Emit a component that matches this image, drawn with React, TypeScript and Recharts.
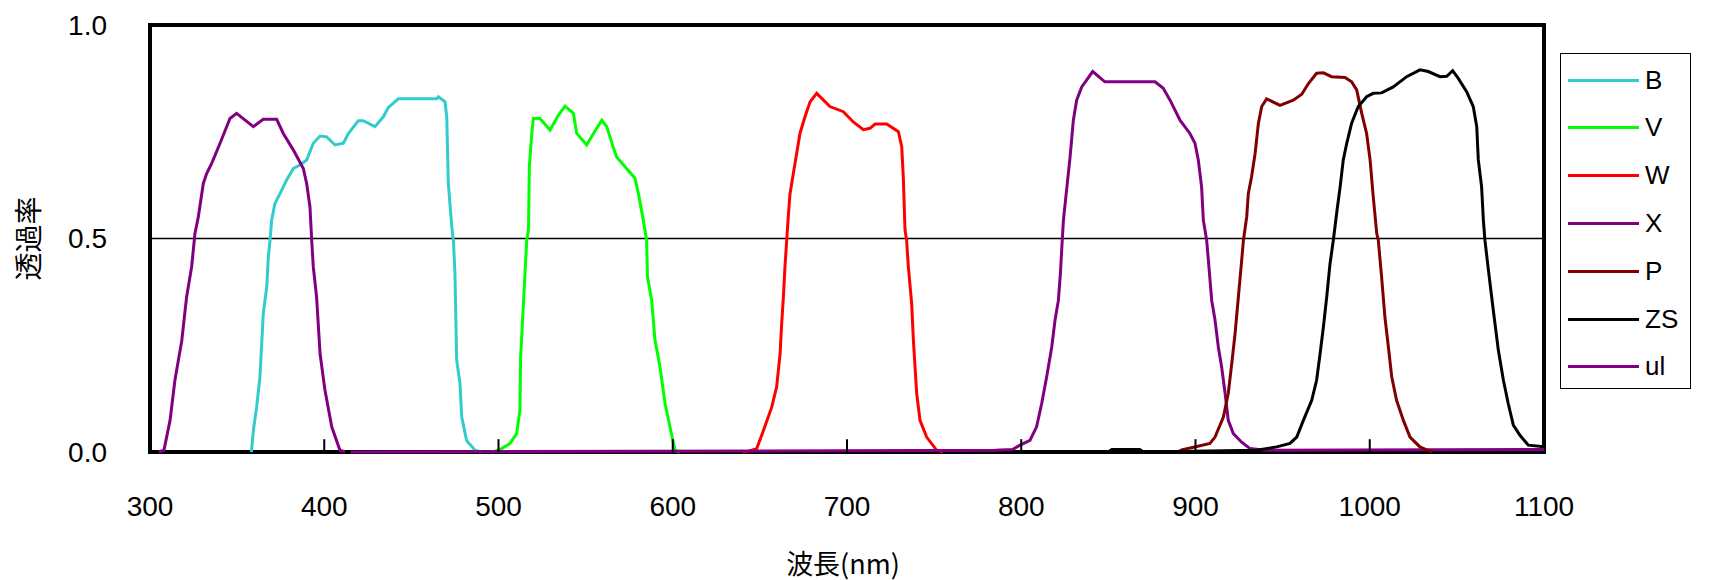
import { LineChart, Line, XAxis, YAxis, ReferenceLine, ReferenceArea, Label } from "recharts"

type Pt = [number, number]

const wavelengthTicks = [300, 400, 500, 600, 700, 800, 900, 1000, 1100]
const transmissionTicks = [0, 0.5, 1]

const bPoints: Pt[] = [
  [358, 0], [358.3, 0.004], [359.3, 0.05], [361.2, 0.105], [363.1, 0.176], [365, 0.324], [367, 0.387],
  [367.9, 0.457], [368.9, 0.496], [369.8, 0.543], [371.7, 0.582], [374.6, 0.605], [378.4, 0.637],
  [382.3, 0.664], [386, 0.672], [389.9, 0.684], [393.7, 0.723], [397.6, 0.74], [401.4, 0.738],
  [406.2, 0.719], [411, 0.723], [413.8, 0.746], [419.6, 0.776], [422.4, 0.776], [429.1, 0.762],
  [433.9, 0.785], [436.8, 0.807], [442.5, 0.827], [464.5, 0.827], [465.5, 0.832], [469.3, 0.82],
  [470.3, 0.785], [471.2, 0.629], [473.2, 0.527], [474.1, 0.496], [475, 0.418], [476, 0.215],
  [477.9, 0.16], [478.9, 0.082], [481.7, 0.027], [486.5, 0.004], [490, 0],
]

const vPoints: Pt[] = [
  [496, 0], [498, 0.002], [501.8, 0.008], [506.6, 0.02], [510.4, 0.043], [512.3, 0.098], [512.7, 0.223],
  [513.9, 0.316], [515.2, 0.418], [516.2, 0.496], [517.2, 0.52], [517.7, 0.668], [519.1, 0.746],
  [520, 0.781], [523.8, 0.781], [529.6, 0.754], [534.4, 0.789], [538.2, 0.81], [543, 0.793],
  [544.9, 0.746], [550.6, 0.719], [554.5, 0.746], [559.3, 0.777], [562.1, 0.762], [565.9, 0.713],
  [567.8, 0.691], [572.6, 0.668], [578.3, 0.641], [580.3, 0.605], [583.1, 0.543], [585, 0.496],
  [585.5, 0.41], [587.9, 0.355], [589.8, 0.262], [592.7, 0.199], [595.6, 0.113], [598.4, 0.059],
  [601.3, 0.004], [604, 0],
]

const wPoints: Pt[] = [
  [640, 0], [643.4, 0.002], [648.2, 0.008], [652, 0.05], [656.8, 0.105], [659.6, 0.152], [661.6, 0.23],
  [662.5, 0.3], [663.5, 0.363], [664.4, 0.434], [665.4, 0.496], [666.3, 0.551], [667.3, 0.605],
  [669.2, 0.652], [671.1, 0.699], [673, 0.746], [675.9, 0.785], [678.8, 0.82], [682.6, 0.84],
  [690.2, 0.809], [697.9, 0.797], [703.6, 0.773], [709.4, 0.755], [713.2, 0.758], [716.1, 0.768],
  [722.8, 0.768], [729.5, 0.75], [731.4, 0.715], [732.3, 0.645], [733.3, 0.52], [734.2, 0.496],
  [735.2, 0.434], [737.1, 0.348], [738.1, 0.262], [740, 0.137], [741.9, 0.074], [745.7, 0.035],
  [751.5, 0.004], [755, 0],
]

const xPoints: Pt[] = [
  [415, 0], [785, 0.004], [795, 0.006], [799.3, 0.016], [805, 0.027], [808.8, 0.059], [811.7, 0.113],
  [814.6, 0.176], [817.5, 0.246], [819.4, 0.309], [821.3, 0.355], [822.5, 0.42], [823.3, 0.48],
  [824.2, 0.543], [826.1, 0.617], [828, 0.69], [829.9, 0.777], [831.8, 0.824], [834.7, 0.855],
  [837.5, 0.871], [841, 0.891], [848, 0.867], [876.8, 0.867], [881.5, 0.852], [885.4, 0.824],
  [891.1, 0.777], [896.8, 0.746], [899.7, 0.723], [901.6, 0.684], [903.5, 0.621], [904.5, 0.543],
  [906.4, 0.496], [907.4, 0.449], [909.3, 0.355], [911.2, 0.309], [913.1, 0.246], [915, 0.199],
  [917, 0.137], [918.8, 0.074], [921.7, 0.043], [926.5, 0.023], [931.3, 0.008], [940, 0.004],
  [1100, 0.006],
]

const pPoints: Pt[] = [
  [890, 0], [892.1, 0.005], [900.7, 0.013], [908.3, 0.02], [911.2, 0.035], [916, 0.082], [918.8, 0.137],
  [920.8, 0.207], [922.7, 0.277], [924.6, 0.363], [926.5, 0.449], [927.5, 0.496], [929.4, 0.551],
  [930.3, 0.605], [932.2, 0.645], [934.2, 0.699], [936.1, 0.77], [938, 0.809], [940.8, 0.827],
  [948.5, 0.812], [956.1, 0.824], [961, 0.838], [964.8, 0.863], [969.5, 0.887], [973.4, 0.888],
  [978.1, 0.879], [985.8, 0.877], [989.6, 0.867], [992.5, 0.848], [995.4, 0.793], [998.2, 0.746],
  [1000.2, 0.684], [1002, 0.598], [1004, 0.512], [1004.9, 0.496], [1006.8, 0.41], [1008.7, 0.316],
  [1010.7, 0.246], [1012.6, 0.176], [1015.4, 0.121], [1019.3, 0.074], [1023.1, 0.035],
  [1028.8, 0.012], [1032.7, 0.005], [1036, 0],
]

const zsPoints: Pt[] = [
  [850, 0], [852, 0.006], [868, 0.006], [870, 0], [935, 0.004], [946.6, 0.012], [954.2, 0.02],
  [958.1, 0.035], [961.9, 0.074], [966.7, 0.121], [969.5, 0.168], [971.5, 0.23], [973.4, 0.293],
  [975.3, 0.363], [977.2, 0.441], [979.1, 0.496], [981, 0.559], [983, 0.621], [984.8, 0.684],
  [986.8, 0.723], [989.6, 0.77], [993.4, 0.809], [998.2, 0.832], [1002, 0.84], [1006.8, 0.841],
  [1013.5, 0.855], [1021.2, 0.879], [1028.8, 0.895], [1033.6, 0.891], [1040.3, 0.879],
  [1044.2, 0.88], [1047.6, 0.893], [1050.8, 0.875], [1055.6, 0.844], [1059.4, 0.809],
  [1061.4, 0.762], [1062.3, 0.684], [1064.2, 0.621], [1065.2, 0.543], [1066.1, 0.496],
  [1068.1, 0.426], [1070.9, 0.332], [1073.8, 0.238], [1076.7, 0.168], [1079.5, 0.113],
  [1082.4, 0.063], [1086.2, 0.039], [1091, 0.016], [1100, 0.012],
]

const ulPoints: Pt[] = [
  [305, 0], [308, 0.004], [311.5, 0.074], [314.3, 0.168], [318.2, 0.26], [321, 0.363], [323.9, 0.434],
  [325.8, 0.512], [327.7, 0.55], [330.6, 0.629], [332.5, 0.652], [335.4, 0.676], [340.2, 0.723],
  [345.9, 0.781], [349.7, 0.793], [359.3, 0.762], [365, 0.779], [372.7, 0.779], [376.5, 0.746],
  [382.3, 0.707], [388, 0.664], [389.9, 0.629], [391.8, 0.574], [392.8, 0.496], [393.7, 0.434],
  [395.6, 0.363], [397.6, 0.23], [400.4, 0.145], [404.3, 0.059], [409, 0.004], [412, 0],
]

const seriesNames = ["B", "V", "W", "X", "P", "ZS", "ul"]
const seriesColors = ["#33CCCC", "#00FF00", "#FF0000", "#800080", "#800000", "#000000", "#800080"]
const seriesPoints = [bPoints, vPoints, wPoints, xPoints, pPoints, zsPoints, ulPoints]

const series = seriesNames.map((name, i) => ({
  name,
  color: seriesColors[i],
  data: seriesPoints[i].map(([x, y]) => ({ x, y })),
}))

// inward tick marks on the bottom axis, as a small fraction of the y range
const TICK_MARK = 0.03
const innerTicks = wavelengthTicks.slice(1, -1)

const NUM_FONT = "'Liberation Sans', Arial, sans-serif"
const JP_FONT = "'Noto Sans CJK JP', sans-serif"

function XTick({ x, y, payload }: any) {
  return (
    <text x={x} y={y + 54} textAnchor="middle" dominantBaseline="central"
      fontFamily={NUM_FONT} fontSize={28} fill="#000">
      {payload.value}
    </text>
  )
}

function YTick({ x, y, payload }: any) {
  return (
    <text x={x - 43} y={y} textAnchor="end" dominantBaseline="central"
      fontFamily={NUM_FONT} fontSize={28} fill="#000">
      {Number(payload.value).toFixed(1)}
    </text>
  )
}

function Legend() {
  return (
    <div style={{
      position: "absolute", left: 1560, top: 53, width: 131, height: 336,
      border: "1.5px solid #000", boxSizing: "border-box", background: "#fff",
    }}>
      {series.map((s, i) => (
        <div key={s.name} style={{
          position: "absolute", left: 7, top: 26 + i * 47.8 - 15, height: 30,
          display: "flex", alignItems: "center",
        }}>
          <div style={{ width: 71, height: 3, background: s.color }} />
          <span style={{ marginLeft: 6, fontFamily: NUM_FONT, fontSize: 26, color: "#000" }}>{s.name}</span>
        </div>
      ))}
    </div>
  )
}

export default function App() {
  return (
    <div style={{ position: "absolute", left: 0, top: 0, width: 1714, height: 580, background: "#fff" }}>
      <LineChart width={1714} height={580} margin={{ top: 25, right: 170, bottom: 0, left: 0 }}>
        <ReferenceArea x1={300} x2={1100} y1={0} y2={1} fill="none" stroke="#000" strokeWidth={4}
          ifOverflow="visible" />
        <ReferenceLine y={0.5} stroke="#000" strokeWidth={1.5} />
        {series.map((s) => (
          <Line
            key={s.name}
            data={s.data}
            dataKey="y"
            name={s.name}
            type="linear"
            stroke={s.color}
            strokeWidth={3}
            dot={false}
            activeDot={false}
            isAnimationActive={false}
          />
        ))}
        {innerTicks.map((t) => (
          <ReferenceLine key={t} segment={[{ x: t, y: 0 }, { x: t, y: TICK_MARK }]}
            stroke="#000" strokeWidth={2} ifOverflow="visible" />
        ))}
        <XAxis
          dataKey="x" type="number" domain={[300, 1100]} ticks={wavelengthTicks}
          allowDataOverflow height={128} tickSize={0} tickMargin={0} tickLine={false}
          axisLine={false} tick={<XTick />} interval={0}
        >
          <Label content={({ viewBox }: any) => (
            <text x={viewBox.x + viewBox.width / 2 - 4} y={viewBox.y + 110} textAnchor="middle"
              dominantBaseline="central" fontFamily={JP_FONT} fontSize={27} fill="#000">
              波長(nm)
            </text>
          )} />
        </XAxis>
        <YAxis
          type="number" domain={[0, 1]} ticks={transmissionTicks} width={150}
          tickSize={0} tickMargin={0} tickLine={false} interval={0}
          axisLine={false} tick={<YTick />}
        >
          <Label content={({ viewBox }: any) => {
            const cx = 27
            const cy = viewBox.y + viewBox.height / 2
            return (
              <text x={cx} y={cy} transform={`rotate(-90, ${cx}, ${cy})`} textAnchor="middle"
                dominantBaseline="central" fontFamily={JP_FONT} fontSize={28} fill="#000">
                透過率
              </text>
            )
          }} />
        </YAxis>
      </LineChart>
      <Legend />
    </div>
  )
}
